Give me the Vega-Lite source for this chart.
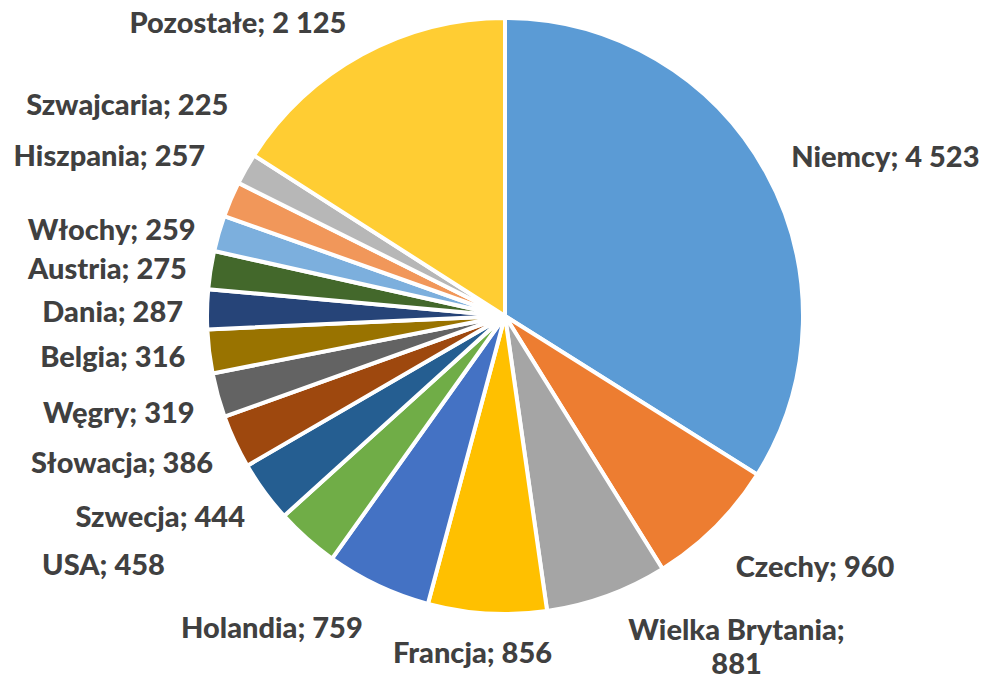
{
  "$schema": "https://vega.github.io/schema/vega-lite/v6.json",
  "width": 940,
  "height": 632,
  "autosize": {"type": "none"},
  "padding": {"left": 35, "top": 0, "right": 9, "bottom": 49},
  "background": "white",
  "config": {"view": {"stroke": null}, "text": {"font": "Lato", "fontWeight": 900, "fontSize": 29, "fill": "#404040"}},
  "data": {
    "values": [
      {"country": "Niemcy", "value": 4523},
      {"country": "Czechy", "value": 960},
      {"country": "Wielka Brytania", "value": 881},
      {"country": "Francja", "value": 856},
      {"country": "Holandia", "value": 759},
      {"country": "USA", "value": 458},
      {"country": "Szwecja", "value": 444},
      {"country": "Słowacja", "value": 386},
      {"country": "Węgry", "value": 319},
      {"country": "Belgia", "value": 316},
      {"country": "Dania", "value": 287},
      {"country": "Austria", "value": 275},
      {"country": "Włochy", "value": 259},
      {"country": "Hiszpania", "value": 257},
      {"country": "Szwajcaria", "value": 225},
      {"country": "Pozostałe", "value": 2125}
    ]
  },
  "transform": [
    {"window": [{"op": "row_number", "as": "idx"}]},
    {"joinaggregate": [{"op": "sum", "field": "value", "as": "total"}]},
    {"window": [{"op": "sum", "field": "value", "as": "cum"}], "sort": [{"field": "idx"}], "frame": [null, 0]},
    {"calculate": "(datum.cum - datum.value / 2) / datum.total * 360", "as": "mid"},
    {"calculate": "datum.mid < 100 ? 'L1' : datum.mid < 150 ? 'L2' : datum.mid < 175 ? 'B' : datum.mid < 195 ? 'C' : datum.mid < 215 ? 'H' : datum.mid < 228 ? 'U' : datum.mid < 262 ? 'R1' : datum.mid < 288 ? 'R2' : datum.mid < 296 ? 'HI' : datum.mid < 305 ? 'SZ' : 'P'", "as": "grp"},
    {"calculate": "datum.country + '; ' + replace(format(datum.value, ','), ',', ' ')", "as": "label"},
    {"calculate": "datum.country + ';\\n' + replace(format(datum.value, ','), ',', ' ')", "as": "label2"}
  ],
  "encoding": {
    "theta": {"field": "value", "type": "quantitative", "stack": true},
    "order": {"field": "idx", "type": "quantitative"}
  },
  "layer": [
    {
      "mark": {"type": "arc", "outerRadius": 298, "stroke": "white", "strokeWidth": 4},
      "encoding": {
        "color": {
          "field": "country",
          "type": "nominal",
          "legend": null,
          "scale": {
            "domain": ["Niemcy", "Czechy", "Wielka Brytania", "Francja", "Holandia", "USA", "Szwecja", "Słowacja", "Węgry", "Belgia", "Dania", "Austria", "Włochy", "Hiszpania", "Szwajcaria", "Pozostałe"],
            "range": ["#5B9BD5", "#ED7D31", "#A5A5A5", "#FFC000", "#4472C4", "#70AD47", "#255E91", "#9E480E", "#636363", "#997300", "#264478", "#43682B", "#7CAFDD", "#F1975A", "#B7B7B7", "#FFCD33"]
          }
        }
      }
    },
    {
      "mark": {"type": "text", "radius": 327, "align": "left", "baseline": "middle"},
      "encoding": {"text": {"condition": {"test": "datum.grp == 'L1'", "field": "label", "type": "nominal"}, "value": ""}}
    },
    {
      "mark": {"type": "text", "radius": 327, "align": "left", "baseline": "middle", "dy": 20},
      "encoding": {"text": {"condition": {"test": "datum.grp == 'L2'", "field": "label", "type": "nominal"}, "value": ""}}
    },
    {
      "mark": {"type": "text", "radius": 320, "align": "center", "baseline": "top", "dx": 122, "lineBreak": "\n", "lineHeight": 34},
      "encoding": {"text": {"condition": {"test": "datum.grp == 'B'", "field": "label2", "type": "nominal"}, "value": ""}}
    },
    {
      "mark": {"type": "text", "radius": 325, "align": "center", "baseline": "top", "dx": -13},
      "encoding": {"text": {"condition": {"test": "datum.grp == 'C'", "field": "label", "type": "nominal"}, "value": ""}}
    },
    {
      "mark": {"type": "text", "radius": 322, "align": "right", "baseline": "middle", "dy": 22, "dx": -5},
      "encoding": {"text": {"condition": {"test": "datum.grp == 'H'", "field": "label", "type": "nominal"}, "value": ""}}
    },
    {
      "mark": {"type": "text", "radius": 322, "align": "right", "baseline": "middle", "dy": 9, "dx": -126},
      "encoding": {"text": {"condition": {"test": "datum.grp == 'U'", "field": "label", "type": "nominal"}, "value": ""}}
    },
    {
      "mark": {"type": "text", "radius": 322, "align": "right", "baseline": "middle", "dy": 12},
      "encoding": {"text": {"condition": {"test": "datum.grp == 'R1'", "field": "label", "type": "nominal"}, "value": ""}}
    },
    {
      "mark": {"type": "text", "radius": 322, "align": "right", "baseline": "middle", "dy": 4},
      "encoding": {"text": {"condition": {"test": "datum.grp == 'R2'", "field": "label", "type": "nominal"}, "value": ""}}
    },
    {
      "mark": {"type": "text", "radius": 340, "align": "right", "baseline": "middle", "dy": -26, "dx": 13},
      "encoding": {"text": {"condition": {"test": "datum.grp == 'HI'", "field": "label", "type": "nominal"}, "value": ""}}
    },
    {
      "mark": {"type": "text", "radius": 340, "align": "right", "baseline": "middle", "dy": -42, "dx": 19},
      "encoding": {"text": {"condition": {"test": "datum.grp == 'SZ'", "field": "label", "type": "nominal"}, "value": ""}}
    },
    {
      "mark": {"type": "text", "radius": 322, "align": "right", "baseline": "middle", "dy": -10, "dx": -4},
      "encoding": {"text": {"condition": {"test": "datum.grp == 'P'", "field": "label", "type": "nominal"}, "value": ""}}
    }
  ]
}
